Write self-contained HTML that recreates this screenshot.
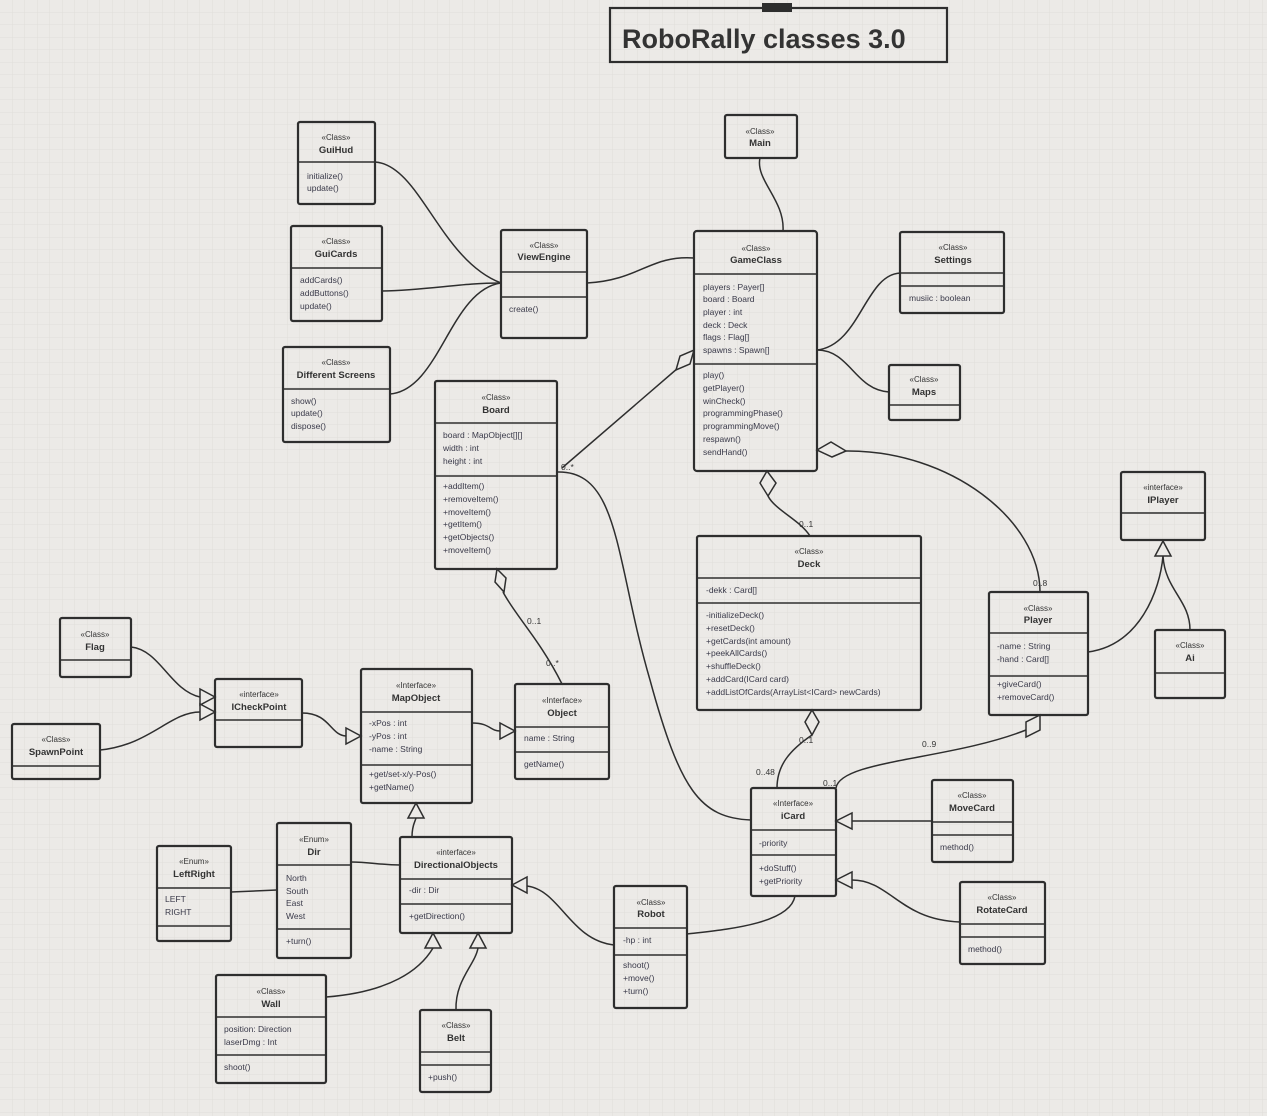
<!DOCTYPE html>
<html><head><meta charset="utf-8"><style>
html,body{margin:0;padding:0;background:#eceae7;}
svg{display:block;font-family:"Liberation Sans",sans-serif;}
.b{fill:none;stroke:#2e2e2e;stroke-width:2.2;}
.l{stroke:#2e2e2e;stroke-width:1.6;}
.c{fill:none;stroke:#2e2e2e;stroke-width:1.5;}
.t{fill:#eceae7;stroke:#2e2e2e;stroke-width:1.5;}
.s{font-size:8px;fill:#333;text-anchor:middle;}
.n{font-size:9.5px;font-weight:bold;fill:#333;text-anchor:middle;}
.m{font-size:8.5px;fill:#3a3a4a;}
.lb{font-size:8.5px;fill:#333;}
</style></head><body>
<svg width="1267" height="1116" viewBox="0 0 1267 1116" xmlns="http://www.w3.org/2000/svg">
<defs><pattern id="g" width="12.5" height="12.5" patternUnits="userSpaceOnUse"><path d="M12.5 0V12.5M0 12.5H12.5" stroke="#dedcd8" stroke-width="0.8" fill="none"/></pattern></defs>
<rect width="1267" height="1116" fill="#eceae7"/>
<rect width="1267" height="1116" fill="url(#g)"/>

<!-- Title -->
<rect x="610" y="8" width="337" height="54" class="b"/>
<rect x="762" y="3" width="30" height="9" fill="#2e2e2e"/>
<text x="622" y="48" font-size="27" font-weight="bold" fill="#333">RoboRally classes 3.0</text>

<!-- connectors -->
<path class="c" d="M375,162 C420,165 440,260 501,283"/>
<path class="c" d="M382,291 C430,290 460,283 501,283"/>
<path class="c" d="M390,394 C440,390 450,290 501,283"/>
<path class="c" d="M587,283 C640,280 650,255 694,258"/>
<path class="c" d="M760,158 C755,180 785,200 783,231"/>
<path class="c" d="M817,350 C860,345 865,275 900,273"/>
<path class="c" d="M817,350 C850,350 855,390 889,392"/>
<path class="c" d="M562,468 L678,368"/>
<path class="c" d="M768,496 C775,510 800,520 810,536"/>
<path class="c" d="M846,451 C950,450 1040,520 1040,592"/>
<path class="c" d="M503,592 C515,615 540,640 562,684"/>
<path class="c" d="M557,472 C620,470 615,560 650,680 C680,790 700,818 751,820"/>
<path class="c" d="M812,735 C790,750 777,765 777,788"/>
<path class="c" d="M1026,730 C950,760 840,760 836,788"/>
<path class="c" d="M1088,652 C1140,645 1160,590 1163,556"/>
<path class="c" d="M1190,630 C1190,600 1165,590 1163,556"/>
<path class="c" d="M131,647 C160,650 170,690 200,697"/>
<path class="c" d="M100,750 C150,745 170,712 200,712"/>
<path class="c" d="M302,713 C330,713 330,735 346,736"/>
<path class="c" d="M472,723 C490,723 490,731 500,731"/>
<path class="c" d="M412,837 C412,825 415,822 416,818"/>
<path class="c" d="M351,862 C370,862 380,865 400,865"/>
<path class="c" d="M231,892 L277,890"/>
<path class="c" d="M614,945 C570,940 560,890 527,886"/>
<path class="c" d="M326,997 C390,992 420,970 433,948"/>
<path class="c" d="M456,1010 C455,980 475,965 478,948"/>
<path class="c" d="M795,896 C790,925 720,930 687,934"/>
<path class="c" d="M932,821 L852,821"/>
<path class="c" d="M960,922 C900,920 890,880 852,880"/>

<!-- triangles -->
<polygon class="t" points="215,697 200,689 200,705"/>
<polygon class="t" points="215,712 200,704 200,720"/>
<polygon class="t" points="361,736 346,728 346,744"/>
<polygon class="t" points="515,731 500,723 500,739"/>
<polygon class="t" points="416,803 408,818 424,818"/>
<polygon class="t" points="512,885 527,877 527,893"/>
<polygon class="t" points="433,933 425,948 441,948"/>
<polygon class="t" points="478,933 470,948 486,948"/>
<polygon class="t" points="836,821 852,813 852,829"/>
<polygon class="t" points="836,880 852,872 852,888"/>
<polygon class="t" points="1163,541 1155,556 1171,556"/>
<!-- diamonds -->
<polygon class="t" points="694,350 690,364 676,370 680,356"/>
<polygon class="t" points="767,471 776,483 768,496 760,483"/>
<polygon class="t" points="817,450 831,442 846,451 832,457"/>
<polygon class="t" points="497,569 506,578 504,592 495,582"/>
<polygon class="t" points="812,710 819,722 812,735 805,722"/>
<polygon class="t" points="1040,715 1040,730 1026,737 1026,722"/>

<!-- labels -->
<text class="lb" x="561" y="470">0..*</text>
<text class="lb" x="799" y="527">0..1</text>
<text class="lb" x="1033" y="586">0..8</text>
<text class="lb" x="527" y="624">0..1</text>
<text class="lb" x="546" y="666">0..*</text>
<text class="lb" x="799" y="743">0..1</text>
<text class="lb" x="756" y="775">0..48</text>
<text class="lb" x="922" y="747">0..9</text>
<text class="lb" x="823" y="786">0..1</text>

<!-- GuiHud -->
<rect class="b" x="298" y="122" width="77" height="82" rx="2"/><line class="l" x1="298" y1="162" x2="375" y2="162"/>
<text class="s" x="336" y="140">«Class»</text><text class="n" x="336" y="153">GuiHud</text>
<text class="m" x="307" y="179">initialize()</text><text class="m" x="307" y="191">update()</text>
<!-- GuiCards -->
<rect class="b" x="291" y="226" width="91" height="95" rx="2"/><line class="l" x1="291" y1="268" x2="382" y2="268"/>
<text class="s" x="336" y="244">«Class»</text><text class="n" x="336" y="257">GuiCards</text>
<text class="m" x="300" y="283">addCards()</text><text class="m" x="300" y="296">addButtons()</text><text class="m" x="300" y="309">update()</text>
<!-- Different Screens -->
<rect class="b" x="283" y="347" width="107" height="95" rx="2"/><line class="l" x1="283" y1="389" x2="390" y2="389"/>
<text class="s" x="336" y="365">«Class»</text><text class="n" x="336" y="378">Different Screens</text>
<text class="m" x="291" y="404">show()</text><text class="m" x="291" y="416">update()</text><text class="m" x="291" y="429">dispose()</text>
<!-- ViewEngine -->
<rect class="b" x="501" y="230" width="86" height="108" rx="2"/><line class="l" x1="501" y1="272" x2="587" y2="272"/><line class="l" x1="501" y1="297" x2="587" y2="297"/>
<text class="s" x="544" y="248">«Class»</text><text class="n" x="544" y="260">ViewEngine</text>
<text class="m" x="509" y="312">create()</text>
<!-- Main -->
<rect class="b" x="725" y="115" width="72" height="43" rx="2"/>
<text class="s" x="760" y="134">«Class»</text><text class="n" x="760" y="146">Main</text>
<!-- GameClass -->
<rect class="b" x="694" y="231" width="123" height="240" rx="3"/><line class="l" x1="694" y1="274" x2="817" y2="274"/><line class="l" x1="694" y1="364" x2="817" y2="364"/>
<text class="s" x="756" y="251">«Class»</text><text class="n" x="756" y="263">GameClass</text>
<text class="m" x="703" y="290">players : Payer[]</text><text class="m" x="703" y="302">board : Board</text><text class="m" x="703" y="315">player : int</text><text class="m" x="703" y="328">deck : Deck</text><text class="m" x="703" y="340">flags : Flag[]</text><text class="m" x="703" y="353">spawns : Spawn[]</text>
<text class="m" x="703" y="378">play()</text><text class="m" x="703" y="391">getPlayer()</text><text class="m" x="703" y="404">winCheck()</text><text class="m" x="703" y="416">programmingPhase()</text><text class="m" x="703" y="429">programmingMove()</text><text class="m" x="703" y="442">respawn()</text><text class="m" x="703" y="455">sendHand()</text>
<!-- Settings -->
<rect class="b" x="900" y="232" width="104" height="81" rx="2"/><line class="l" x1="900" y1="273" x2="1004" y2="273"/><line class="l" x1="900" y1="286" x2="1004" y2="286"/>
<text class="s" x="953" y="250">«Class»</text><text class="n" x="953" y="263">Settings</text>
<text class="m" x="909" y="301">musiic : boolean</text>
<!-- Maps -->
<rect class="b" x="889" y="365" width="71" height="55" rx="2"/><line class="l" x1="889" y1="405" x2="960" y2="405"/>
<text class="s" x="924" y="382">«Class»</text><text class="n" x="924" y="395">Maps</text>
<!-- Board -->
<rect class="b" x="435" y="381" width="122" height="188" rx="2"/><line class="l" x1="435" y1="423" x2="557" y2="423"/><line class="l" x1="435" y1="476" x2="557" y2="476"/>
<text class="s" x="496" y="400">«Class»</text><text class="n" x="496" y="413">Board</text>
<text class="m" x="443" y="438">board : MapObject[][]</text><text class="m" x="443" y="451">width : int</text><text class="m" x="443" y="464">height : int</text>
<text class="m" x="443" y="489">+addItem()</text><text class="m" x="443" y="502">+removeItem()</text><text class="m" x="443" y="515">+moveItem()</text><text class="m" x="443" y="527">+getItem()</text><text class="m" x="443" y="540">+getObjects()</text><text class="m" x="443" y="553">+moveItem()</text>
<!-- Deck -->
<rect class="b" x="697" y="536" width="224" height="174" rx="2"/><line class="l" x1="697" y1="578" x2="921" y2="578"/><line class="l" x1="697" y1="603" x2="921" y2="603"/>
<text class="s" x="809" y="554">«Class»</text><text class="n" x="809" y="567">Deck</text>
<text class="m" x="706" y="593">-dekk : Card[]</text>
<text class="m" x="706" y="618">-initializeDeck()</text><text class="m" x="706" y="631">+resetDeck()</text><text class="m" x="706" y="644">+getCards(int amount)</text><text class="m" x="706" y="656">+peekAllCards()</text><text class="m" x="706" y="669">+shuffleDeck()</text><text class="m" x="706" y="682">+addCard(ICard card)</text><text class="m" x="706" y="695">+addListOfCards(ArrayList&lt;ICard&gt; newCards)</text>
<!-- IPlayer -->
<rect class="b" x="1121" y="472" width="84" height="68" rx="2"/><line class="l" x1="1121" y1="513" x2="1205" y2="513"/>
<text class="s" x="1163" y="490">«interface»</text><text class="n" x="1163" y="503">IPlayer</text>
<!-- Player -->
<rect class="b" x="989" y="592" width="99" height="123" rx="2"/><line class="l" x1="989" y1="633" x2="1088" y2="633"/><line class="l" x1="989" y1="676" x2="1088" y2="676"/>
<text class="s" x="1038" y="611">«Class»</text><text class="n" x="1038" y="623">Player</text>
<text class="m" x="997" y="649">-name : String</text><text class="m" x="997" y="662">-hand : Card[]</text>
<text class="m" x="997" y="687">+giveCard()</text><text class="m" x="997" y="700">+removeCard()</text>
<!-- Ai -->
<rect class="b" x="1155" y="630" width="70" height="68" rx="2"/><line class="l" x1="1155" y1="673" x2="1225" y2="673"/>
<text class="s" x="1190" y="648">«Class»</text><text class="n" x="1190" y="661">Ai</text>
<!-- Flag -->
<rect class="b" x="60" y="618" width="71" height="59" rx="2"/><line class="l" x1="60" y1="660" x2="131" y2="660"/>
<text class="s" x="95" y="637">«Class»</text><text class="n" x="95" y="650">Flag</text>
<!-- SpawnPoint -->
<rect class="b" x="12" y="724" width="88" height="55" rx="2"/><line class="l" x1="12" y1="766" x2="100" y2="766"/>
<text class="s" x="56" y="742">«Class»</text><text class="n" x="56" y="755">SpawnPoint</text>
<!-- ICheckPoint -->
<rect class="b" x="215" y="679" width="87" height="68" rx="2"/><line class="l" x1="215" y1="720" x2="302" y2="720"/>
<text class="s" x="259" y="697">«interface»</text><text class="n" x="259" y="710">ICheckPoint</text>
<!-- MapObject -->
<rect class="b" x="361" y="669" width="111" height="134" rx="2"/><line class="l" x1="361" y1="712" x2="472" y2="712"/><line class="l" x1="361" y1="765" x2="472" y2="765"/>
<text class="s" x="416" y="688">«Interface»</text><text class="n" x="416" y="701">MapObject</text>
<text class="m" x="369" y="726">-xPos : int</text><text class="m" x="369" y="739">-yPos : int</text><text class="m" x="369" y="752">-name : String</text>
<text class="m" x="369" y="777">+get/set-x/y-Pos()</text><text class="m" x="369" y="790">+getName()</text>
<!-- Object -->
<rect class="b" x="515" y="684" width="94" height="95" rx="2"/><line class="l" x1="515" y1="727" x2="609" y2="727"/><line class="l" x1="515" y1="752" x2="609" y2="752"/>
<text class="s" x="562" y="703">«Interface»</text><text class="n" x="562" y="716">Object</text>
<text class="m" x="524" y="741">name : String</text><text class="m" x="524" y="767">getName()</text>
<!-- iCard -->
<rect class="b" x="751" y="788" width="85" height="108" rx="2"/><line class="l" x1="751" y1="830" x2="836" y2="830"/><line class="l" x1="751" y1="855" x2="836" y2="855"/>
<text class="s" x="793" y="806">«Interface»</text><text class="n" x="793" y="819">iCard</text>
<text class="m" x="759" y="846">-priority</text><text class="m" x="759" y="871">+doStuff()</text><text class="m" x="759" y="884">+getPriority</text>
<!-- MoveCard -->
<rect class="b" x="932" y="780" width="81" height="82" rx="2"/><line class="l" x1="932" y1="822" x2="1013" y2="822"/><line class="l" x1="932" y1="835" x2="1013" y2="835"/>
<text class="s" x="972" y="798">«Class»</text><text class="n" x="972" y="811">MoveCard</text>
<text class="m" x="940" y="850">method()</text>
<!-- RotateCard -->
<rect class="b" x="960" y="882" width="85" height="82" rx="2"/><line class="l" x1="960" y1="924" x2="1045" y2="924"/><line class="l" x1="960" y1="937" x2="1045" y2="937"/>
<text class="s" x="1002" y="900">«Class»</text><text class="n" x="1002" y="913">RotateCard</text>
<text class="m" x="968" y="952">method()</text>
<!-- LeftRight -->
<rect class="b" x="157" y="846" width="74" height="95" rx="2"/><line class="l" x1="157" y1="888" x2="231" y2="888"/><line class="l" x1="157" y1="926" x2="231" y2="926"/>
<text class="s" x="194" y="864">«Enum»</text><text class="n" x="194" y="877">LeftRight</text>
<text class="m" x="165" y="902">LEFT</text><text class="m" x="165" y="915">RIGHT</text>
<!-- Dir -->
<rect class="b" x="277" y="823" width="74" height="135" rx="2"/><line class="l" x1="277" y1="865" x2="351" y2="865"/><line class="l" x1="277" y1="929" x2="351" y2="929"/>
<text class="s" x="314" y="842">«Enum»</text><text class="n" x="314" y="855">Dir</text>
<text class="m" x="286" y="881">North</text><text class="m" x="286" y="894">South</text><text class="m" x="286" y="906">East</text><text class="m" x="286" y="919">West</text>
<text class="m" x="286" y="944">+turn()</text>
<!-- DirectionalObjects -->
<rect class="b" x="400" y="837" width="112" height="96" rx="2"/><line class="l" x1="400" y1="879" x2="512" y2="879"/><line class="l" x1="400" y1="904" x2="512" y2="904"/>
<text class="s" x="456" y="855">«interface»</text><text class="n" x="456" y="868">DirectionalObjects</text>
<text class="m" x="409" y="893">-dir : Dir</text><text class="m" x="409" y="919">+getDirection()</text>
<!-- Robot -->
<rect class="b" x="614" y="886" width="73" height="122" rx="2"/><line class="l" x1="614" y1="928" x2="687" y2="928"/><line class="l" x1="614" y1="955" x2="687" y2="955"/>
<text class="s" x="651" y="905">«Class»</text><text class="n" x="651" y="917">Robot</text>
<text class="m" x="623" y="943">-hp : int</text>
<text class="m" x="623" y="968">shoot()</text><text class="m" x="623" y="981">+move()</text><text class="m" x="623" y="994">+turn()</text>
<!-- Wall -->
<rect class="b" x="216" y="975" width="110" height="108" rx="2"/><line class="l" x1="216" y1="1017" x2="326" y2="1017"/><line class="l" x1="216" y1="1055" x2="326" y2="1055"/>
<text class="s" x="271" y="994">«Class»</text><text class="n" x="271" y="1007">Wall</text>
<text class="m" x="224" y="1032">position: Direction</text><text class="m" x="224" y="1045">laserDmg : Int</text>
<text class="m" x="224" y="1070">shoot()</text>
<!-- Belt -->
<rect class="b" x="420" y="1010" width="71" height="82" rx="2"/><line class="l" x1="420" y1="1052" x2="491" y2="1052"/><line class="l" x1="420" y1="1065" x2="491" y2="1065"/>
<text class="s" x="456" y="1028">«Class»</text><text class="n" x="456" y="1041">Belt</text>
<text class="m" x="428" y="1080">+push()</text>
</svg>
</body></html>
